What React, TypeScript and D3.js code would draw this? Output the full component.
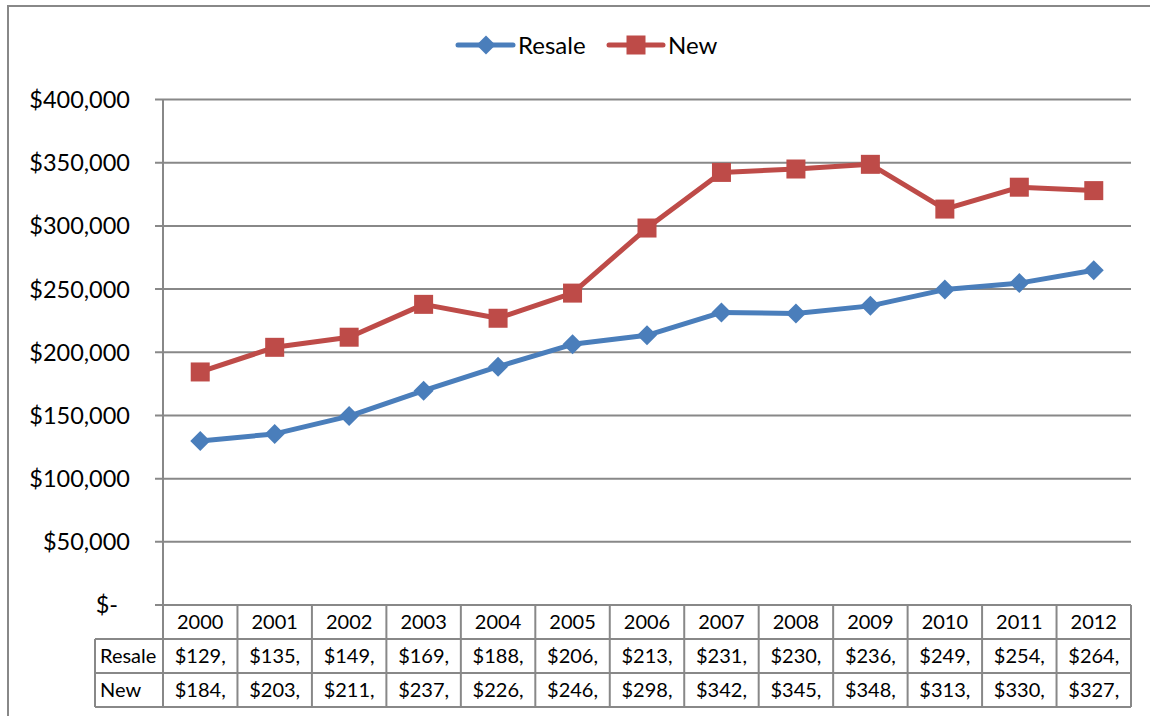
import React from "react";
import * as d3 from "d3";

// Median home prices by year
const years = ["2000", "2001", "2002", "2003", "2004", "2005", "2006", "2007", "2008", "2009", "2010", "2011", "2012"];
const resale = [129800, 135400, 149500, 169600, 188600, 206300, 213400, 231500, 230600, 236700, 249600, 254700, 264900];
const newHomes = [184400, 203900, 211900, 237900, 226900, 246800, 298300, 342300, 345000, 348700, 313300, 330600, 327900];
const yTicks = [0, 50000, 100000, 150000, 200000, 250000, 300000, 350000, 400000];

const FONT = "Lato, 'Open Sans', sans-serif";
const BLUE = "#4A7EBB";
const RED = "#BE4B48";
const GRID = "#888888";

export default function App() {
  const W = 1150;
  const H = 716;
  const left = 163;
  const right = 1131;
  const top = 99.5;
  const bottom = 605;

  const x = d3.scaleBand<string>().domain(years).range([left, right]);
  const y = d3.scaleLinear().domain([0, 400000]).range([bottom, top]);
  const cx = (yr: string) => (x(yr) as number) + x.bandwidth() / 2;

  const line = d3
    .line<number>()
    .x((_, i) => cx(years[i]))
    .y((d) => y(d));

  const money = d3.format("$,");
  const yLabel = (v: number) => (v === 0 ? "$-" : money(v));
  const cellLabel = (v: number) => `$${Math.floor(v / 1000)},`;

  const rowH = 34;
  const tableTop = bottom;
  const labelLeft = 95;

  const diamondPath = (r: number) => `M0,${-r}L${r},0L0,${r}L${-r},0Z`;

  return (
    <svg
      width={W}
      height={H}
      style={{ position: "absolute", left: 0, top: 0, background: "#fff" }}
      fontFamily={FONT}
    >
      {/* chart frame */}
      <rect x={8} y={6} width={W + 20} height={H + 20} fill="#fff" stroke={GRID} strokeWidth={2} />

      {/* legend */}
      <g>
        <line x1={458} x2={513} y1={45} y2={45} stroke={BLUE} strokeWidth={5} strokeLinecap="round" />
        <path d={diamondPath(9.5)} transform="translate(486,45)" fill={BLUE} />
        <text x={518} y={45} dy="0.36em" fontSize={24} fill="#000">Resale</text>
        <line x1={609} x2={663} y1={45} y2={45} stroke={RED} strokeWidth={5} strokeLinecap="round" />
        <rect x={636 - 9.5} y={45 - 9.5} width={19} height={19} fill={RED} />
        <text x={668} y={45} dy="0.36em" fontSize={24} fill="#000">New</text>
      </g>

      {/* gridlines and y axis */}
      {yTicks.map((t) => (
        <g key={t}>
          <line x1={155} x2={t === 0 ? left : right} y1={y(t)} y2={y(t)} stroke={GRID} strokeWidth={2} />
          <text
            x={t === 0 ? 118 : 130}
            y={y(t)}
            dy="0.36em"
            textAnchor="end"
            fontSize={23.5}
            fill="#000"
          >
            {yLabel(t)}
          </text>
        </g>
      ))}
      <line x1={left} x2={left} y1={top} y2={bottom} stroke={GRID} strokeWidth={2} />

      {/* data table */}
      <g>
        <line x1={left} x2={right} y1={tableTop} y2={tableTop} stroke={GRID} strokeWidth={2} />
        {[1, 2, 3].map((r) => (
          <line key={r} x1={labelLeft} x2={right} y1={tableTop + r * rowH} y2={tableTop + r * rowH} stroke={GRID} strokeWidth={2} />
        ))}
        <line x1={labelLeft} x2={labelLeft} y1={tableTop + rowH} y2={tableTop + 3 * rowH} stroke={GRID} strokeWidth={2} />
        <line x1={left} x2={left} y1={tableTop} y2={tableTop + 3 * rowH} stroke={GRID} strokeWidth={2} />
        {years.map((yr) => (
          <line
            key={yr}
            x1={(x(yr) as number) + x.bandwidth()}
            x2={(x(yr) as number) + x.bandwidth()}
            y1={tableTop}
            y2={tableTop + 3 * rowH}
            stroke={GRID}
            strokeWidth={2}
          />
        ))}
        {years.map((yr, i) => (
          <g key={yr} fontSize={20} textAnchor="middle" fill="#000">
            <text x={cx(yr)} y={tableTop + rowH * 0.5} dy="0.36em">{yr}</text>
            <text x={cx(yr)} y={tableTop + rowH * 1.5} dy="0.36em">{cellLabel(resale[i])}</text>
            <text x={cx(yr)} y={tableTop + rowH * 2.5} dy="0.36em">{cellLabel(newHomes[i])}</text>
          </g>
        ))}
        <text x={100} y={tableTop + rowH * 1.5} dy="0.36em" fontSize={20} fill="#000">Resale</text>
        <text x={100} y={tableTop + rowH * 2.5} dy="0.36em" fontSize={20} fill="#000">New</text>
      </g>

      {/* series */}
      <path d={line(resale) ?? ""} fill="none" stroke={BLUE} strokeWidth={5} strokeLinejoin="round" strokeLinecap="round" />
      <path d={line(newHomes) ?? ""} fill="none" stroke={RED} strokeWidth={5} strokeLinejoin="round" strokeLinecap="round" />
      {resale.map((v, i) => (
        <path key={`r${i}`} d={diamondPath(10)} transform={`translate(${cx(years[i])},${y(v)})`} fill={BLUE} />
      ))}
      {newHomes.map((v, i) => (
        <rect key={`n${i}`} x={cx(years[i]) - 9.5} y={y(v) - 9.5} width={19} height={19} fill={RED} />
      ))}
    </svg>
  );
}
